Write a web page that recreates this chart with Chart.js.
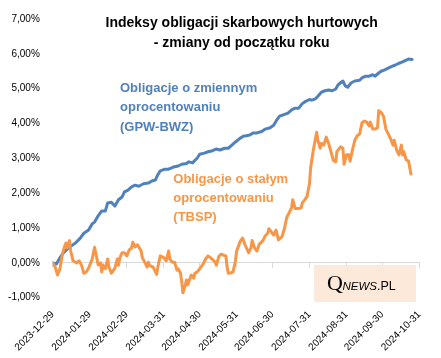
<!DOCTYPE html>
<html><head><meta charset="utf-8">
<script src="https://cdn.jsdelivr.net/npm/chart.js@4.4.1/dist/chart.umd.min.js"></script>
<style>html,body{margin:0;padding:0;background:#fff}canvas{display:block}</style>
</head><body>
<canvas id="c" width="441" height="358"></canvas>
<script>
const startDate = '2023-12-29';
const tickLabels = ['2023-12-29','2024-01-29','2024-02-29','2024-03-31','2024-04-30','2024-05-31','2024-06-30','2024-07-31','2024-08-31','2024-09-30','2024-10-31'];
const yTicks = [-1,0,1,2,3,4,5,6,7];

// GPW-BWZ (days since start, % change YTD)
const bwzDays = [0,3,6,9,13,19,23,26,30,33,35,38,41,44,46,49,52,55,58,60,63,66,69,72,76,80,83,86,88,90,94,97,101,105,108,112,114,117,121,123,127,130,133,137,140,144,147,150,153,157,160,162,165,168,171,175,178,182,185,188,190,193,197,200,203,206,209,211,215,217,220,222,225,228,231,234,237,239,241,243,245,247,250,253,257,259,262,265,268,270,273,275,278,281,284,287,290,293,296,298,301];
const bwzValues = [0.00,-0.03,0.15,0.29,0.43,0.57,0.71,0.85,0.94,1.12,1.17,1.35,1.49,1.49,1.72,1.74,1.63,1.81,1.89,2.04,2.09,2.18,2.23,2.20,2.27,2.29,2.35,2.38,2.53,2.64,2.69,2.69,2.75,2.78,2.83,2.85,2.90,2.87,3.01,3.12,3.15,3.19,3.21,3.27,3.24,3.29,3.29,3.38,3.47,3.58,3.64,3.65,3.67,3.73,3.73,3.77,3.84,3.88,3.95,4.12,4.21,4.25,4.30,4.39,4.44,4.44,4.57,4.62,4.69,4.67,4.71,4.78,4.90,4.94,4.96,4.94,4.99,5.11,5.17,5.22,5.08,5.04,5.17,5.22,5.24,5.31,5.36,5.36,5.40,5.36,5.45,5.50,5.54,5.59,5.64,5.68,5.73,5.77,5.82,5.85,5.84];

// TBSP (days since start, % change YTD)
const tbspDays = [0,2,4,6,8,10,11,12,14,15,17,20,22,24,26,28,30,33,35,37,38,40,41,42,44,46,47,49,52,54,55,56,58,60,62,64,66,67,69,71,74,75,77,79,80,81,84,86,87,88,90,93,95,97,98,100,102,104,105,107,108,109,111,112,113,115,116,118,119,121,123,126,128,130,132,134,136,137,139,141,143,145,146,147,149,151,153,154,155,157,159,161,164,166,167,169,171,173,176,178,180,181,183,185,187,189,192,194,196,198,200,201,203,206,208,209,211,213,215,216,218,220,221,222,224,225,227,229,231,233,235,237,238,241,243,244,246,248,249,251,253,255,257,259,261,263,265,266,268,270,272,273,275,277,279,281,283,285,286,288,290,292,293,294,296,298,299,300];
const tbspValues = [0.00,-0.12,-0.35,-0.17,0.25,0.48,0.57,0.43,0.64,0.34,0.06,0.00,0.06,-0.06,-0.30,-0.26,-0.15,0.11,0.45,0.11,-0.06,0.00,-0.26,-0.06,-0.17,0.11,-0.12,-0.30,-0.15,0.11,-0.07,0.13,0.29,0.29,0.20,0.37,0.43,0.59,0.46,0.52,0.34,0.15,0.02,-0.12,0.02,-0.07,-0.12,-0.26,-0.33,-0.12,0.20,0.15,0.06,0.34,0.11,0.02,0.02,-0.21,-0.17,-0.30,-0.54,-0.86,-0.63,-0.49,-0.63,-0.44,-0.35,-0.44,-0.30,-0.26,-0.17,-0.03,0.11,0.20,0.15,0.09,0.02,-0.07,0.18,0.25,0.22,0.20,-0.12,-0.30,-0.29,-0.26,0.06,0.34,0.43,0.62,0.71,0.52,0.29,0.43,0.64,0.43,0.34,0.54,0.64,0.78,0.85,0.98,0.89,0.80,0.94,0.66,0.75,0.98,1.31,1.44,1.58,1.81,1.56,1.56,1.58,1.72,1.81,1.91,2.27,2.73,3.19,3.56,3.75,3.52,3.29,3.43,3.38,3.61,3.43,3.19,2.94,2.90,3.19,3.33,3.29,2.83,3.10,3.10,2.92,3.24,3.52,3.65,3.70,4.02,4.07,4.04,3.93,4.04,3.84,3.84,3.88,4.37,4.32,4.21,3.84,3.70,3.56,3.38,3.52,3.24,3.10,3.38,3.10,3.19,2.96,2.92,2.73,2.55];

function daysFromStart(s){
  const [y,m,d] = s.split('-').map(Number);
  const [y0,m0,d0] = startDate.split('-').map(Number);
  return Math.round((Date.UTC(y,m-1,d) - Date.UTC(y0,m0-1,d0)) / 86400000);
}
const tickDays = tickLabels.map(daysFromStart);
const xMax = tickDays[tickDays.length-1];

const BLUE = '#4f81bd', ORANGE = '#f79646';
const FONT = "'Liberation Sans', Arial, sans-serif";

const textPlugin = {
  id: 'texts',
  afterDraw(chart){
    const ctx = chart.ctx;
    ctx.save();
    // title
    ctx.fillStyle = '#000';
    ctx.font = "bold 14px " + FONT;
    ctx.textAlign = 'center';
    ctx.textBaseline = 'alphabetic';
    ctx.fillText('Indeksy obligacji skarbowych hurtowych', 241.7, 26.7);
    ctx.fillText('- zmiany od początku roku', 241.7, 46.7);
    // series labels
    ctx.textAlign = 'left';
    ctx.font = "bold 13px " + FONT;
    ctx.fillStyle = BLUE;
    ['Obligacje o zmiennym','oprocentowaniu','(GPW-BWZ)'].forEach((t,i)=>ctx.fillText(t, 120, 91.8 + i*19.4));
    ctx.fillStyle = ORANGE;
    ['Obligacje o stałym','oprocentowaniu','(TBSP)'].forEach((t,i)=>ctx.fillText(t, 173.3, 183 + i*18.8));
    // logo
    ctx.fillStyle = '#fde9d9';
    ctx.fillRect(314, 265, 102, 37);
    ctx.fillStyle = '#000';
    ctx.font = "22px 'Liberation Serif', 'Times New Roman', serif";
    ctx.fillText('Q', 327, 290);
    ctx.font = "italic 11.5px " + FONT;
    ctx.fillText('NEWS', 342.5, 290);
    ctx.font = "12.5px " + FONT;
    ctx.fillText('.PL', 377, 290);
    ctx.restore();
  }
};

new Chart(document.getElementById('c'), {
  type: 'line',
  data: {
    datasets: [
      { label: 'TBSP', data: tbspDays.map((d,i)=>({x:d, y:tbspValues[i]})), borderColor: ORANGE, borderWidth: 3, pointRadius: 0, tension: 0, borderJoinStyle: 'round', borderCapStyle: 'round', order: 0 },
      { label: 'GPW-BWZ', data: bwzDays.map((d,i)=>({x:d, y:bwzValues[i]})), borderColor: BLUE, borderWidth: 3, pointRadius: 0, tension: 0, borderJoinStyle: 'round', borderCapStyle: 'round', order: 1 }
    ]
  },
  options: {
    responsive: false,
    animation: false,
    devicePixelRatio: 1,
    layout: { padding: { left: 0, right: 21.7, top: 10.7, bottom: 0 } },
    plugins: { legend: { display: false }, tooltip: { enabled: false }, title: { display: false } },
    scales: {
      x: {
        type: 'linear', min: 0, max: xMax,
        afterBuildTicks: s => { s.ticks = tickDays.map(v => ({ value: v })); },
        afterFit: s => { s.height = 60.3; },
        ticks: { autoSkip: false, maxRotation: 45, minRotation: 45, padding: 11, color: '#000', font: { family: FONT, size: 10 },
          callback: v => { const i = tickDays.indexOf(v); return i >= 0 ? tickLabels[i] : ''; } },
        grid: { display: false, drawTicks: false },
        border: { display: false }
      },
      x2: {
        type: 'linear', min: 0, max: xMax, position: { y: 0 },
        afterBuildTicks: s => { s.ticks = tickDays.map(v => ({ value: v })); },
        ticks: { display: false },
        grid: { display: true, drawOnChartArea: false, drawTicks: true, tickLength: 5, color: '#d9d9d9' },
        border: { display: true, color: '#d9d9d9', width: 1 }
      },
      y: {
        min: -1, max: 7,
        afterBuildTicks: s => { s.ticks = yTicks.map(v => ({ value: v })); },
        afterFit: s => { s.width = 52.8; },
        ticks: { padding: 13, color: '#000', font: { family: FONT, size: 10 },
          callback: v => v.toFixed(2).replace('.', ',') + '%' },
        grid: { display: false, drawTicks: false },
        border: { display: false }
      }
    }
  },
  plugins: [textPlugin]
});
</script>
</body></html>
